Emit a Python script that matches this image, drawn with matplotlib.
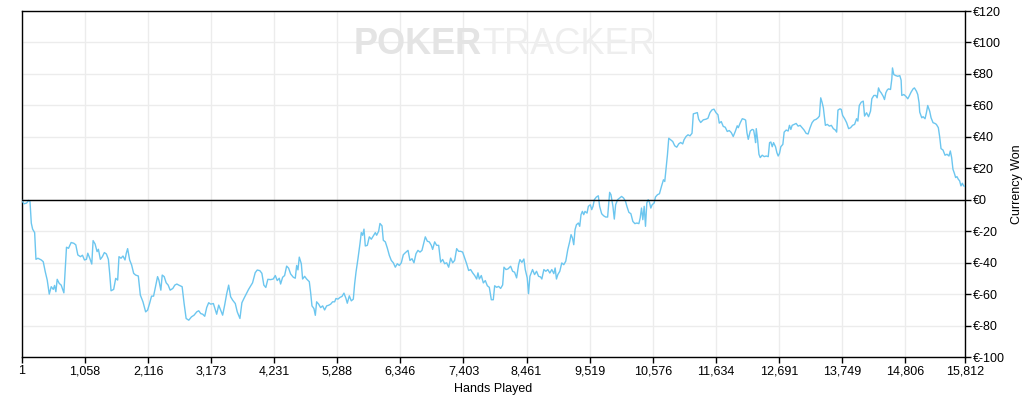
import matplotlib
matplotlib.use("Agg")
import matplotlib.pyplot as plt
from matplotlib.ticker import FuncFormatter

# cumulative winnings
hands = [
    1, 34, 79, 112, 135, 157, 179, 213, 235, 268, 324, 357, 391, 424, 458, 491, 525, 547, 569, 591,
    625, 658, 703, 747, 781, 825, 870, 903, 937, 981, 1015, 1048, 1082, 1104, 1137, 1171, 1193, 1226, 1260, 1282,
    1315, 1349, 1382, 1416, 1449, 1471, 1494, 1538, 1572, 1605, 1627, 1661, 1694, 1728, 1750, 1772, 1806, 1839, 1873, 1906,
    1951, 1985, 2029, 2074, 2107, 2140, 2173, 2207, 2240, 2274, 2296, 2329, 2352, 2385, 2418, 2452, 2485, 2530, 2563, 2597,
    2630, 2686, 2719, 2753, 2797, 2842, 2886, 2931, 2964, 2998, 3031, 3065, 3098, 3131, 3165, 3210, 3243, 3265, 3299, 3332,
    3365, 3399, 3432, 3466, 3499, 3532, 3577, 3610, 3655, 3688, 3722, 3766, 3800, 3833, 3867, 3911, 3945, 3989, 4023, 4056,
    4089, 4123, 4170, 4214, 4248, 4281, 4315, 4337, 4371, 4404, 4438, 4471, 4505, 4550, 4583, 4606, 4628, 4650, 4684, 4706,
    4740, 4773, 4818, 4840, 4863, 4896, 4919, 4941, 4975, 5008, 5042, 5075, 5109, 5142, 5176, 5209, 5243, 5265, 5299, 5332,
    5366, 5399, 5433, 5455, 5489, 5522, 5556, 5578, 5601, 5634, 5668, 5690, 5712, 5735, 5757, 5791, 5824, 5858, 5891, 5925,
    5947, 5981, 6003, 6037, 6059, 6093, 6126, 6160, 6193, 6227, 6260, 6294, 6327, 6361, 6394, 6428, 6473, 6506, 6540, 6573,
    6607, 6640, 6674, 6707, 6741, 6763, 6797, 6830, 6864, 6886, 6920, 6953, 6987, 7020, 7054, 7087, 7121, 7155, 7188, 7222,
    7255, 7289, 7322, 7356, 7389, 7423, 7456, 7490, 7523, 7557, 7591, 7624, 7646, 7669, 7702, 7736, 7769, 7803, 7836, 7870,
    7903, 7926, 7959, 7993, 8026, 8060, 8082, 8116, 8149, 8194, 8227, 8260, 8294, 8327, 8350, 8383, 8416, 8439, 8472, 8494,
    8517, 8539, 8561, 8595, 8628, 8662, 8695, 8717, 8751, 8784, 8817, 8851, 8884, 8918, 8940, 8962, 8985, 9018, 9051, 9085,
    9118, 9152, 9185, 9207, 9230, 9252, 9274, 9297, 9330, 9352, 9374, 9397, 9419, 9441, 9475, 9497, 9530, 9553, 9575, 9597,
    9631, 9664, 9686, 9720, 9753, 9787, 9820, 9854, 9876, 9909, 9932, 9954, 9987, 10021, 10054, 10087, 10121, 10143, 10176, 10210,
    10243, 10277, 10310, 10344, 10366, 10388, 10410, 10433, 10455, 10477, 10500, 10522, 10544, 10566, 10600, 10622, 10656, 10689, 10723, 10756,
    10778, 10800, 10823, 10845, 10878, 10912, 10945, 10979, 11012, 11045, 11079, 11101, 11135, 11168, 11201, 11235, 11257, 11291, 11324, 11346,
    11380, 11424, 11469, 11502, 11536, 11569, 11603, 11636, 11670, 11692, 11725, 11759, 11792, 11826, 11859, 11893, 11926, 11960, 11993, 12011,
    12045, 12078, 12112, 12134, 12156, 12178, 12212, 12245, 12268, 12290, 12301, 12312, 12334, 12357, 12379, 12412, 12446, 12479, 12513, 12535,
    12557, 12580, 12602, 12635, 12658, 12680, 12702, 12724, 12758, 12780, 12814, 12847, 12869, 12892, 12914, 12947, 12981, 13014, 13047, 13081,
    13114, 13148, 13181, 13215, 13248, 13281, 13315, 13348, 13371, 13393, 13415, 13437, 13471, 13504, 13538, 13571, 13604, 13638, 13660, 13682,
    13716, 13738, 13760, 13794, 13827, 13861, 13894, 13927, 13961, 13994, 14016, 14039, 14072, 14106, 14128, 14161, 14195, 14228, 14250, 14284,
    14317, 14339, 14362, 14384, 14406, 14440, 14462, 14485, 14507, 14529, 14563, 14585, 14596, 14618, 14652, 14685, 14719, 14741, 14752, 14786,
    14819, 14853, 14875, 14908, 14942, 14964, 14998, 15020, 15042, 15053, 15087, 15109, 15142, 15165, 15187, 15220, 15243, 15276, 15309, 15332,
    15365, 15387, 15410, 15443, 15477, 15510, 15543, 15566, 15588, 15610, 15633, 15655, 15677, 15700, 15722, 15744, 15767, 15789, 15812,
]
won = [
    -0.4, -2.6, -2.1, -0.4, -1.1, -14.9, -18.7, -20.9, -37.9, -37.2, -38.3, -39.4, -45.8, -51.1, -60.0, -55.3, -57.0, -54.5, -58.5, -50.6,
    -53.2, -54.3, -59.2, -30.2, -30.9, -27.2, -27.7, -28.7, -35.1, -36.2, -35.3, -38.3, -37.9, -34.0, -37.2, -40.9, -26.0, -28.1, -33.0, -31.5,
    -37.9, -36.2, -33.6, -34.5, -37.9, -46.8, -57.9, -57.0, -50.0, -51.1, -36.2, -37.2, -35.8, -38.3, -34.0, -31.1, -38.3, -41.5, -46.8, -47.9,
    -48.5, -60.6, -64.9, -71.3, -70.2, -66.0, -61.3, -61.3, -55.3, -48.9, -51.1, -57.5, -47.9, -48.9, -52.8, -54.3, -57.5, -56.4, -54.3, -53.6,
    -54.3, -55.3, -66.0, -75.5, -76.6, -74.5, -73.4, -71.3, -70.6, -72.4, -72.8, -74.1, -68.5, -65.5, -66.4, -66.0, -70.2, -72.8, -67.0, -70.2,
    -73.4, -67.0, -60.0, -54.3, -61.7, -63.8, -66.0, -71.3, -75.5, -65.5, -62.8, -59.6, -57.0, -54.9, -52.8, -46.4, -44.7, -45.1, -46.8, -54.3,
    -55.8, -50.6, -50.8, -50.4, -48.2, -51.4, -49.9, -53.6, -49.3, -48.2, -42.2, -43.5, -47.2, -49.3, -49.9, -41.8, -44.6, -36.5, -40.7, -50.4,
    -48.7, -50.4, -52.1, -58.9, -67.5, -69.2, -73.5, -64.9, -66.4, -68.6, -67.5, -70.1, -67.5, -67.1, -66.4, -64.9, -64.9, -62.8, -63.2, -62.1,
    -61.5, -59.4, -62.8, -65.8, -61.1, -64.3, -63.2, -53.6, -46.1, -37.5, -27.9, -20.9, -22.6, -18.7, -29.4, -29.0, -23.6, -25.1, -23.0, -20.9,
    -22.6, -20.0, -15.1, -16.6, -25.8, -26.8, -30.7, -35.4, -38.6, -40.1, -42.9, -40.7, -41.8, -40.1, -35.0, -33.7, -32.2, -38.6, -37.5, -40.1,
    -34.3, -32.2, -33.3, -32.2, -26.8, -23.6, -26.4, -26.8, -29.0, -31.6, -26.8, -29.0, -29.0, -39.7, -38.0, -40.7, -40.1, -42.9, -37.1, -40.1,
    -38.6, -31.1, -32.8, -32.8, -33.3, -37.1, -40.7, -45.0, -44.4, -46.5, -48.2, -50.4, -46.5, -50.4, -48.2, -52.9, -51.4, -54.7, -55.7, -63.6,
    -63.6, -54.7, -55.7, -55.1, -56.4, -54.2, -42.9, -44.4, -44.0, -42.3, -45.5, -46.1, -49.7, -41.3, -38.1, -39.8, -37.7, -44.4, -49.7, -59.7,
    -48.7, -46.6, -44.4, -47.6, -45.5, -48.7, -49.1, -50.4, -44.4, -45.5, -44.4, -46.6, -44.4, -47.0, -43.4, -50.4, -47.6, -45.5, -40.2, -41.3,
    -39.1, -31.7, -26.5, -22.2, -24.3, -28.6, -19.0, -15.9, -14.8, -16.9, -9.5, -7.4, -9.5, -7.4, -8.5, -4.2, -3.2, -6.3, -4.2, 0.0,
    1.7, 2.5, -4.2, -8.9, -10.2, -11.0, -11.0, 4.7, 3.2, -4.2, -12.3, -3.2, 0.0, 1.1, 2.1, 1.1, -1.1, -4.2, -8.0, -8.9,
    -13.8, -15.2, -14.8, -15.2, -11.6, -5.3, -12.7, -4.2, -16.9, -2.1, 0.0, -1.7, -5.3, -3.2, -2.1, 1.7, 3.2, 3.8, 8.5, 12.7,
    11.6, 20.1, 28.6, 39.1, 38.1, 37.0, 34.3, 33.4, 35.5, 36.4, 35.5, 38.1, 40.2, 41.3, 40.6, 42.3, 54.6, 55.0, 55.4, 51.2,
    49.1, 50.8, 51.2, 51.8, 55.4, 57.1, 57.6, 55.4, 54.0, 48.7, 49.7, 46.6, 46.1, 43.4, 44.0, 42.7, 40.2, 43.4, 47.0, 45.8,
    49.0, 51.5, 51.1, 50.6, 42.6, 38.4, 43.7, 44.7, 44.3, 39.4, 36.3, 45.2, 38.4, 28.9, 26.8, 28.3, 27.4, 27.8, 27.4, 36.3,
    36.7, 33.7, 36.3, 33.7, 29.9, 27.8, 29.5, 33.7, 35.2, 43.0, 44.3, 43.7, 47.3, 44.7, 47.3, 47.9, 48.5, 46.8, 47.3, 45.8,
    44.3, 42.2, 41.8, 45.8, 49.0, 50.6, 51.1, 52.1, 53.2, 64.8, 62.0, 58.5, 47.3, 47.9, 46.8, 47.3, 45.2, 44.3, 43.0, 57.0,
    57.8, 57.4, 53.6, 51.5, 49.0, 45.2, 45.8, 47.3, 47.9, 51.5, 50.0, 59.9, 62.0, 62.7, 53.2, 55.3, 52.8, 56.3, 64.2, 66.3,
    66.3, 64.8, 71.1, 69.0, 68.0, 65.8, 63.7, 68.0, 69.7, 70.5, 70.1, 76.8, 83.8, 79.6, 78.9, 78.5, 78.9, 76.0, 66.3, 66.9,
    65.8, 64.2, 65.8, 68.4, 70.5, 71.1, 69.0, 66.9, 61.6, 55.7, 52.1, 52.8, 51.5, 55.3, 59.9, 56.3, 52.1, 49.0, 48.5, 47.9,
    45.8, 40.1, 32.5, 31.6, 28.3, 28.9, 27.8, 31.0, 26.8, 19.4, 16.9, 14.1, 14.7, 13.0, 12.0, 8.8, 10.5, 8.8, 8.5,
]

x_ticks = [1, 1058, 2116, 3173, 4231, 5288, 6346, 7403, 8461, 9519, 10576, 11634, 12691, 13749, 14806, 15812]
y_ticks = list(range(-100, 121, 20))

plt.rcParams["font.family"] = ["Liberation Sans", "DejaVu Sans"]

fig = plt.figure(figsize=(10.26, 4.03), dpi=100)
ax = fig.add_axes([22 / 1026, 46 / 403, 943 / 1026, 346 / 403])

ax.plot(hands, won, color="#6cc6ef", linewidth=1.0, zorder=3)
ax.axhline(0, color="black", linewidth=1.0, zorder=4)

ax.set_xlim(1, 15812)
ax.set_ylim(-100, 120)
ax.set_xticks(x_ticks)
ax.set_yticks(y_ticks)
ax.xaxis.set_major_formatter(FuncFormatter(lambda v, p: f"{int(round(v)):,}"))
ax.yaxis.set_major_formatter(FuncFormatter(lambda v, p: f"€{int(v)}"))
ax.yaxis.tick_right()
ax.yaxis.set_label_position("right")
ax.tick_params(axis="both", direction="out", length=4, width=1, labelsize=9, colors="black", pad=2)

ax.grid(True, color="#ececec", linewidth=1.0, zorder=0)
ax.set_axisbelow(True)
for s in ax.spines.values():
    s.set_color("black")
    s.set_linewidth(1.0)

ax.set_xlabel("Hands Played", fontsize=9, labelpad=4)
ax.set_ylabel("Currency Won", fontsize=9, labelpad=4)

# faint watermark
ax.text(0.488, 0.902, "POKER", transform=ax.transAxes, ha="right", va="center",
        fontsize=26, fontweight="bold", color="#e4e4e4", zorder=1)
ax.text(0.488, 0.902, "TRACKER", transform=ax.transAxes, ha="left", va="center",
        fontsize=26, color="#eeeeee", zorder=1)

fig.savefig("out.png", dpi=100)
